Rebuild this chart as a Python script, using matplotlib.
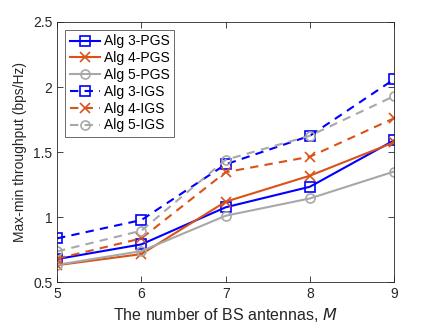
import numpy as np
import matplotlib
matplotlib.use("Agg")
import matplotlib.pyplot as plt

plt.rcParams['font.family'] = ['Liberation Sans', 'DejaVu Sans']

antennas = [5, 6, 7, 8, 9]
alg3_pgs = [0.677, 0.79, 1.075, 1.233, 1.59]
alg4_pgs = [0.63, 0.715, 1.118, 1.318, 1.575]
alg5_pgs = [0.633, 0.738, 1.01, 1.143, 1.35]
alg3_igs = [0.836, 0.977, 1.405, 1.625, 2.06]
alg4_igs = [0.68, 0.836, 1.345, 1.464, 1.76]
alg5_igs = [0.736, 0.895, 1.44, 1.625, 1.93]
labels = ['Alg 3-PGS', 'Alg 4-PGS', 'Alg 5-PGS', 'Alg 3-IGS', 'Alg 4-IGS', 'Alg 5-IGS']

blue = (0, 0, 1)
orange = (0.85, 0.325, 0.098)
gray = (0.66, 0.66, 0.66)

fig = plt.figure(figsize=(4.36, 3.28), dpi=100)
ax = fig.add_axes([0.131, 0.140, 0.773, 0.793])

series = [
    (alg3_pgs, blue, 's', '-'),
    (alg4_pgs, orange, 'x', '-'),
    (alg5_pgs, gray, 'o', '-'),
    (alg3_igs, blue, 's', '--'),
    (alg4_igs, orange, 'x', '--'),
    (alg5_igs, gray, 'o', '--'),
]
for (vals, c, m, ls), lab in zip(series, labels):
    ax.plot(antennas, vals, color=c, marker=m, linestyle=ls, linewidth=1.5,
            markersize=6.5, markerfacecolor='none', markeredgewidth=1.2,
            dashes=(4, 3) if ls == '--' else (None, None), label=lab)

ax.set_xlim(5, 9)
ax.set_ylim(0.5, 2.5)
ax.set_xticks(antennas)
ax.set_yticks([0.5, 1, 1.5, 2, 2.5])
ax.set_yticklabels(['0.5', '1', '1.5', '2', '2.5'])
ax.tick_params(direction='in', top=True, right=True, labelsize=10, colors='#262626',
               length=4, width=0.6)
for s in ax.spines.values():
    s.set_color('#262626')
    s.set_linewidth(0.6)

ax.set_xlabel('The number of BS antennas, $\\it{M}$', fontsize=11.5, color='#262626')
ax.set_ylabel('Max-min throughput (bps/Hz)', fontsize=10, color='#262626')

leg = ax.legend(loc='upper left', fontsize=10, frameon=True, fancybox=False,
                edgecolor='#262626', handlelength=2.2, borderaxespad=0.6,
                labelspacing=0.2, handletextpad=0.3, borderpad=0.3)
leg.get_frame().set_linewidth(0.6)

fig.savefig('out.png', dpi=100)
